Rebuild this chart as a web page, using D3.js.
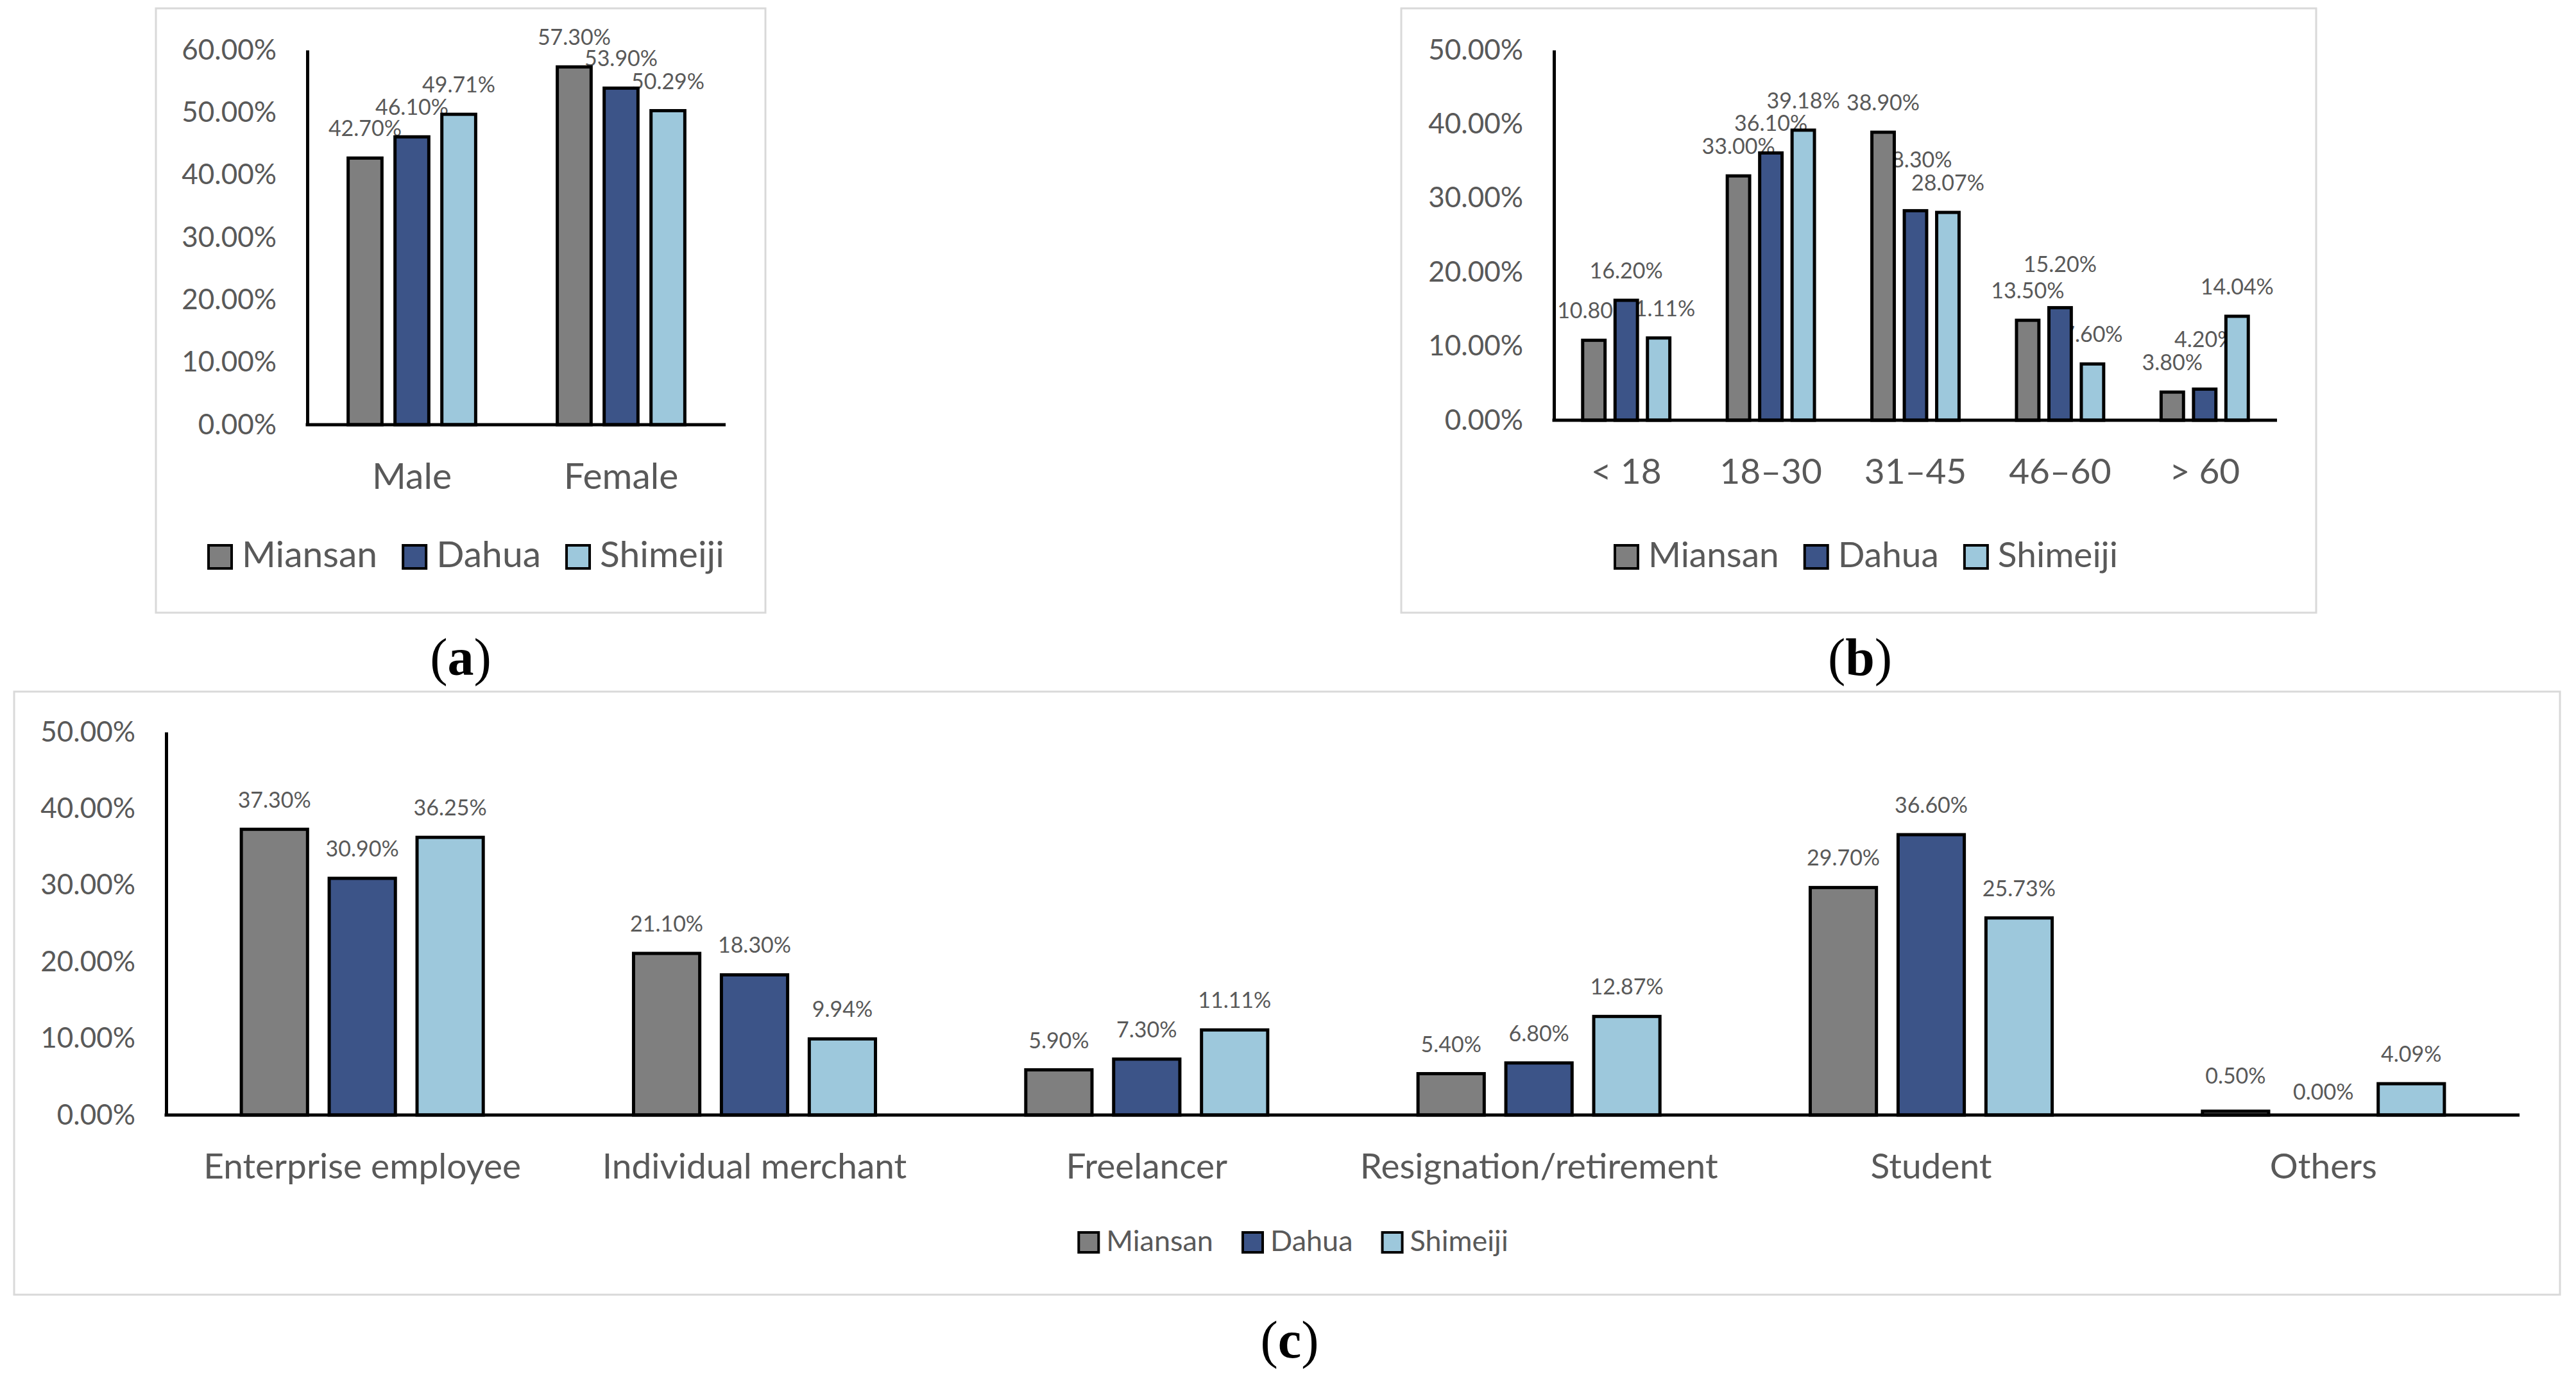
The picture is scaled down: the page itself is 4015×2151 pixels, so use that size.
<!DOCTYPE html>
<html><head><meta charset="utf-8">
<script src="https://cdn.jsdelivr.net/npm/d3@7"></script>
<style>body{margin:0;background:#fff;} svg text{font-family:Lato,"Open Sans",sans-serif;}</style>
</head><body>
<svg id="chart" width="4015" height="2151"></svg>
<script>
// ---------- data ----------
const seriesNames = ["Miansan", "Dahua", "Shimeiji"];
const seriesColors = ["#7f7f7f", "#3c5488", "#9dc8dc"];

const genderCategories = ["Male", "Female"];
const genderMiansan = [42.70, 57.30];
const genderDahua = [46.10, 53.90];
const genderShimeiji = [49.71, 50.29];
const genderTicks = [0, 10, 20, 30, 40, 50, 60];

const ageCategories = ["< 18", "18–30", "31–45", "46–60", "> 60"];
const ageMiansan = [10.80, 33.00, 38.90, 13.50, 3.80];
const ageDahua = [16.20, 36.10, 28.30, 15.20, 4.20];
const ageShimeiji = [11.11, 39.18, 28.07, 7.60, 14.04];
const ageTicks = [0, 10, 20, 30, 40, 50];

const occupationCategories = ["Enterprise employee", "Individual merchant", "Freelancer", "Resignation/retirement", "Student", "Others"];
const occupationMiansan = [37.30, 21.10, 5.90, 5.40, 29.70, 0.50];
const occupationDahua = [30.90, 18.30, 7.30, 6.80, 36.60, 0.00];
const occupationShimeiji = [36.25, 9.94, 11.11, 12.87, 25.73, 4.09];
const occupationTicks = [0, 10, 20, 30, 40, 50];

const captionLetters = ["a", "b", "c"];

// ---------- drawing ----------
const svg = d3.select("#chart");
const textGrey = "#595959";
const fmt = d => d.toFixed(2) + "%";

function drawPanel(p) {
  const g = svg.append("g");
  g.append("rect")
    .attr("x", p.box[0]).attr("y", p.box[1])
    .attr("width", p.box[2] - p.box[0]).attr("height", p.box[3] - p.box[1])
    .attr("fill", "#fff").attr("stroke", "#d9d9d9").attr("stroke-width", 3);

  const x = d3.scaleBand().domain(p.categories).range([p.x0, p.x1]);
  const y = d3.scaleLinear().domain([0, p.yMax]).range([p.yBase, p.yTop]);
  const groupW = x.bandwidth() * 0.625;
  const xs = d3.scaleBand().domain(seriesNames).range([-groupW / 2, groupW / 2]).paddingInner(0.21);

  const labelLayer = g.append("g");
  const barLayer = g.append("g");
  const lift = p.labelLift || {};

  seriesNames.forEach((s, si) => {
    const data = p.categories.map((c, i) => ({ c, v: p.values[si][i] }));
    barLayer.append("g").selectAll("rect").data(data.filter(d => d.v > 0)).join("rect")
      .attr("x", d => x(d.c) + x.bandwidth() / 2 + xs(s) + 2.5)
      .attr("width", xs.bandwidth() - 5)
      .attr("y", d => y(d.v))
      .attr("height", d => p.yBase - y(d.v))
      .attr("fill", seriesColors[si])
      .attr("stroke", "#000").attr("stroke-width", 5);
    labelLayer.append("g").selectAll("text").data(data).join("text")
      .attr("x", d => x(d.c) + x.bandwidth() / 2 + xs(s) + xs.bandwidth() / 2)
      .attr("y", d => y(d.v) - 34 - (lift[s + "|" + d.c] || 0))
      .attr("text-anchor", "middle")
      .attr("font-size", 34)
      .attr("fill", textGrey)
      .text(d => fmt(d.v));
  });

  // y axis
  g.append("g").attr("transform", `translate(${p.x0},0)`)
    .call(d3.axisLeft(y).tickValues(p.ticks).tickSize(0).tickSizeOuter(0).tickPadding(48).tickFormat(fmt))
    .call(a => {
      a.attr("font-family", null).attr("font-size", null);
      a.select(".domain").attr("stroke", "#000").attr("stroke-width", 5);
      a.selectAll("text").attr("font-size", 44).attr("fill", textGrey);
    });

  // x axis
  g.append("g").attr("transform", `translate(0,${p.yBase})`)
    .call(d3.axisBottom(x).tickSize(0).tickSizeOuter(0).tickPadding(60))
    .call(a => {
      a.attr("font-family", null).attr("font-size", null);
      a.select(".domain").attr("stroke", "#000").attr("stroke-width", 5).attr("d", `M${p.x0 - 2.5},0H${p.x1}`);
      a.selectAll("text").attr("font-size", p.catFont).attr("fill", textGrey);
    });

  // legend
  const lg = g.append("g");
  const L = p.legend;
  const items = seriesNames.map((s, si) => {
    const it = lg.append("g");
    it.append("rect").attr("width", L.size).attr("height", L.size)
      .attr("fill", seriesColors[si]).attr("stroke", "#000").attr("stroke-width", 4);
    const t = it.append("text").attr("x", L.size + L.gap1).attr("y", L.size - 2)
      .attr("font-size", L.fontSize).attr("fill", textGrey).text(s);
    return { it, w: L.size + L.gap1 + t.node().getComputedTextLength() };
  });
  const total = d3.sum(items, d => d.w) + L.gap2 * (items.length - 1);
  let cx = L.cx - total / 2;
  items.forEach(d => {
    d.it.attr("transform", `translate(${cx},${L.top})`);
    cx += d.w + L.gap2;
  });

  // caption
  const cap = svg.append("text")
    .attr("x", p.caption.x).attr("y", p.caption.y)
    .attr("text-anchor", "middle")
    .style("font-family", "'Liberation Serif','DejaVu Serif',serif")
    .attr("font-size", 82).attr("fill", "#000");
  cap.append("tspan").text("(");
  cap.append("tspan").attr("font-weight", "bold").text(p.caption.letter);
  cap.append("tspan").text(")");
}

drawPanel({
  box: [243, 13, 1193, 955],
  categories: genderCategories,
  values: [genderMiansan, genderDahua, genderShimeiji],
  ticks: genderTicks, yMax: 60,
  x0: 479, x1: 1131, yTop: 78, yBase: 662,
  catFont: 57,
  legend: { cx: 727, top: 850, size: 36, gap1: 16, gap2: 40, fontSize: 57 },
  caption: { x: 718, y: 1052, letter: captionLetters[0] }
});

drawPanel({
  box: [2184, 13, 3610, 955],
  categories: ageCategories,
  values: [ageMiansan, ageDahua, ageShimeiji],
  ticks: ageTicks, yMax: 50,
  x0: 2422, x1: 3549, yTop: 78, yBase: 655,
  catFont: 55,
  labelLift: { "Dahua|31–45": 33, "Dahua|46–60": 22, "Dahua|> 60": 32 },
  legend: { cx: 2909, top: 850, size: 36, gap1: 16, gap2: 40, fontSize: 55 },
  caption: { x: 2899, y: 1052, letter: captionLetters[1] }
});

drawPanel({
  box: [22, 1078, 3990, 2018],
  categories: occupationCategories,
  values: [occupationMiansan, occupationDahua, occupationShimeiji],
  ticks: occupationTicks, yMax: 50,
  x0: 259, x1: 3927, yTop: 1141, yBase: 1738,
  catFont: 55,
  labelLift: { "Miansan|Others": 9, "Dahua|Others": -10 },
  legend: { cx: 2016, top: 1921, size: 31, gap1: 12, gap2: 46, fontSize: 45 },
  caption: { x: 2010, y: 2116, letter: captionLetters[2] }
});
</script>
</body></html>
